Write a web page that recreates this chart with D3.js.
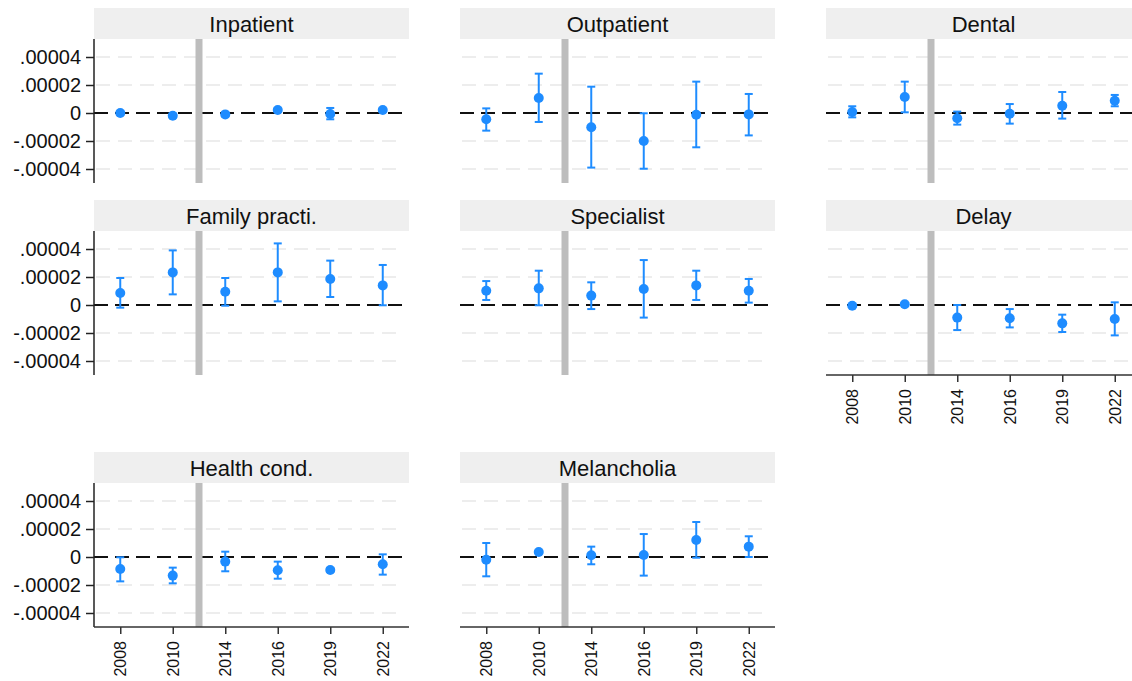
<!DOCTYPE html>
<html>
<head>
<meta charset="utf-8">
<script src="https://cdn.jsdelivr.net/npm/d3@7"></script>
<style>
  html, body { margin: 0; padding: 0; background: #fff; }
  svg { display: block; font-family: "Liberation Sans", Arial, sans-serif; }
</style>
</head>
<body>
<svg id="chart" width="1132" height="681"></svg>
<script>
// ---------------- data ----------------
const years = ["2008", "2010", "2014", "2016", "2019", "2022"];
const panels = ["Inpatient", "Outpatient", "Dental", "Family practi.", "Specialist", "Delay", "Health cond.", "Melancholia"];
const yTicks = [0.00004, 0.00002, 0, -0.00002, -0.00004];
const yTickLabels = [".00004", ".00002", "0", "-.00002", "-.00004"];

// point estimates (units of 1e-5 are converted below)
const estInpatient   = [0.00, -0.19, -0.10, 0.21, -0.07, 0.21];
const loInpatient    = [-0.12, -0.33, -0.24, 0.09, -0.45, 0.11];
const hiInpatient    = [0.12, -0.05, 0.04, 0.33, 0.36, 0.31];

const estOutpatient  = [-0.45, 1.07, -1.02, -2.00, -0.12, -0.10];
const loOutpatient   = [-1.26, -0.64, -3.90, -3.98, -2.45, -1.60];
const hiOutpatient   = [0.33, 2.81, 1.88, -0.02, 2.24, 1.36];

const estDental      = [0.07, 1.14, -0.38, -0.05, 0.52, 0.88];
const loDental       = [-0.31, 0.05, -0.83, -0.76, -0.40, 0.48];
const hiDental       = [0.48, 2.24, 0.10, 0.64, 1.50, 1.29];

const estFamily      = [0.86, 2.33, 0.95, 2.33, 1.86, 1.40];
const loFamily       = [-0.19, 0.76, -0.05, 0.26, 0.57, -0.02];
const hiFamily       = [1.93, 3.90, 1.93, 4.40, 3.17, 2.86];

const estSpecialist  = [1.02, 1.19, 0.67, 1.14, 1.40, 1.02];
const loSpecialist   = [0.36, -0.02, -0.29, -0.90, 0.36, 0.17];
const hiSpecialist   = [1.71, 2.45, 1.62, 3.21, 2.45, 1.86];

const estDelay       = [-0.05, 0.05, -0.90, -0.95, -1.31, -1.00];
const loDelay        = [-0.05, 0.05, -1.79, -1.60, -1.93, -2.17];
const hiDelay        = [-0.05, 0.05, 0.00, -0.29, -0.69, 0.19];

const estHealth      = [-0.86, -1.33, -0.33, -0.95, -0.93, -0.52];
const loHealth       = [-1.74, -1.88, -1.02, -1.55, -1.07, -1.26];
const hiHealth       = [-0.02, -0.76, 0.38, -0.33, -0.79, 0.19];

const estMelancholia = [-0.19, 0.36, 0.12, 0.14, 1.21, 0.74];
const loMelancholia  = [-1.38, 0.36, -0.52, -1.33, -0.05, 0.00];
const hiMelancholia  = [1.00, 0.36, 0.74, 1.64, 2.50, 1.48];

const series = [
  [estInpatient, loInpatient, hiInpatient],
  [estOutpatient, loOutpatient, hiOutpatient],
  [estDental, loDental, hiDental],
  [estFamily, loFamily, hiFamily],
  [estSpecialist, loSpecialist, hiSpecialist],
  [estDelay, loDelay, hiDelay],
  [estHealth, loHealth, hiHealth],
  [estMelancholia, loMelancholia, hiMelancholia]
];
const SCALE = 1e-5;

// ---------------- layout ----------------
const colX = [94, 460, 826];
const rowTop = [8, 200, 452];
const plotW = 315, headerH = 31, plotH = 144;
const blue = "#1e8cff";
const xAxisPanels = new Set(["Delay", "Health cond.", "Melancholia"]);

const svg = d3.select("#chart");

const x = d3.scaleLinear().domain([-0.5, 5.5]).range([0, plotW]);
const y = d3.scaleLinear().domain([-0.00005, 0.00005286]).range([plotH, 0]);

panels.forEach((name, i) => {
  const col = i % 3, row = Math.floor(i / 3);
  const x0 = colX[col], top = rowTop[row];
  const g = svg.append("g").attr("transform", `translate(${x0},${top})`);

  // header
  g.append("rect").attr("x", 0).attr("y", 0).attr("width", plotW).attr("height", headerH)
    .attr("fill", "#efefef");
  g.append("text").attr("x", plotW / 2).attr("y", 24).attr("text-anchor", "middle")
    .attr("font-size", 22).attr("fill", "#111").text(name);

  const p = g.append("g").attr("transform", `translate(0,${headerH})`);

  // gridlines
  p.selectAll("line.grid").data(yTicks.filter(t => t !== 0)).join("line")
    .attr("class", "grid")
    .attr("x1", 2).attr("x2", 308)
    .attr("y1", d => y(d)).attr("y2", d => y(d))
    .attr("stroke", "#e8e8e8").attr("stroke-width", 1.5)
    .attr("stroke-dasharray", "14,8");

  // zero reference
  p.append("line").attr("x1", 0).attr("x2", 308).attr("y1", y(0)).attr("y2", y(0))
    .attr("stroke", "#111").attr("stroke-width", 2).attr("stroke-dasharray", "14,7");

  // vertical break bar
  p.append("rect").attr("x", x(1.5) - 3.5).attr("y", 0).attr("width", 7).attr("height", plotH)
    .attr("fill", "#bdbdbd");

  const [est, lo, hi] = series[i];
  const pts = years.map((yr, k) => ({ k, est: est[k] * SCALE, lo: lo[k] * SCALE, hi: hi[k] * SCALE }));

  const eb = p.selectAll("g.eb").data(pts).join("g").attr("class", "eb");
  eb.append("line").attr("x1", d => x(d.k)).attr("x2", d => x(d.k))
    .attr("y1", d => y(d.lo)).attr("y2", d => y(d.hi))
    .attr("stroke", blue).attr("stroke-width", 2);
  eb.append("line").attr("x1", d => x(d.k) - 4).attr("x2", d => x(d.k) + 4)
    .attr("y1", d => y(d.lo)).attr("y2", d => y(d.lo))
    .attr("stroke", blue).attr("stroke-width", 2);
  eb.append("line").attr("x1", d => x(d.k) - 4).attr("x2", d => x(d.k) + 4)
    .attr("y1", d => y(d.hi)).attr("y2", d => y(d.hi))
    .attr("stroke", blue).attr("stroke-width", 2);
  eb.append("circle").attr("cx", d => x(d.k)).attr("cy", d => y(d.est)).attr("r", 5)
    .attr("fill", blue);

  // y axis (first column)
  if (col === 0) {
    const ya = p.append("g").call(
      d3.axisLeft(y).tickValues(yTicks).tickSize(8).tickPadding(5)
        .tickFormat((d, j) => yTickLabels[j])
    );
    ya.select(".domain").attr("d", `M0,0V${plotH}`).attr("stroke", "#222").attr("stroke-width", 1.5);
    ya.selectAll(".tick line").attr("stroke", "#222").attr("stroke-width", 1.5);
    ya.selectAll(".tick text").attr("font-size", 20).attr("fill", "#111")
      .attr("font-family", "Liberation Sans, Arial, sans-serif");
  }

  // x axis (bottom panels)
  if (xAxisPanels.has(name)) {
    const xb = d3.scaleLinear().domain([-0.5, 5.5]).range([0, plotW]);
    const xa = p.append("g").attr("transform", `translate(0,${plotH})`).call(
      d3.axisBottom(xb).tickValues(d3.range(years.length)).tickSize(7).tickPadding(7)
        .tickFormat(k => years[k])
    );
    xa.select(".domain").attr("d", `M0,0H${plotW}`).attr("stroke", "#333").attr("stroke-width", 1.5);
    xa.selectAll(".tick line").attr("stroke", "#333").attr("stroke-width", 1.5);
    xa.selectAll(".tick text")
      .attr("font-size", 16).attr("fill", "#111")
      .attr("font-family", "Liberation Sans, Arial, sans-serif")
      .attr("text-anchor", "end")
      .attr("transform", "rotate(-90)")
      .attr("x", -14).attr("y", 0).attr("dy", "0.35em");
  }
});
</script>
</body>
</html>
